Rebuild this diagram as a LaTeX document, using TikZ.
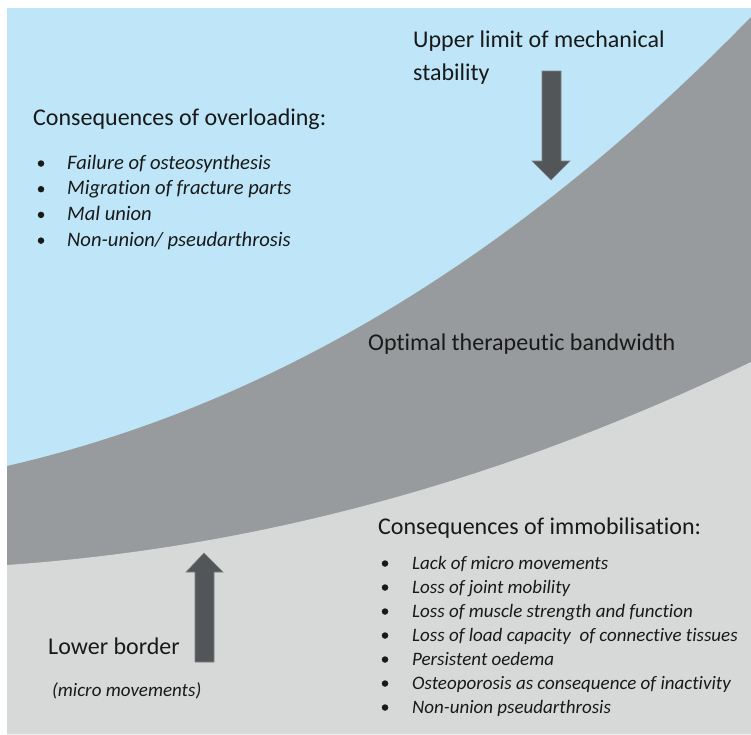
\documentclass[tikz,border=0pt]{standalone}
\usepackage{fontspec}
\setmainfont{Carlito}[Ligatures=CommonOff]
\usetikzlibrary{positioning}
\definecolor{overblue}{RGB}{190,230,248}
\definecolor{bandgray}{RGB}{152,155,157}
\definecolor{immogray}{RGB}{215,216,216}
\definecolor{arrowgray}{RGB}{83,86,88}
\definecolor{textdark}{RGB}{25,25,25}

\begin{document}
\begin{tikzpicture}[x=1pt, y=-1pt,
    heading/.style={anchor=base west, inner sep=0, font=\fontsize{24}{30}\selectfont, text=textdark},
    item/.style={anchor=base west, inner sep=0, font=\fontsize{20.6}{25}\selectfont\itshape, text=textdark},
    smallitem/.style={item, font=\fontsize{19}{24}\selectfont\itshape},
    bullet/.style={circle, fill=textdark, inner sep=0, minimum size=6.5pt},
    blockarrow/.style={fill=arrowgray, draw=arrowgray!75!white, line width=0.6pt}
]
    \useasboundingbox (0,0) rectangle (751,734);

    % Zones
    \fill[overblue] (7,8) rectangle (751,734);
    \fill[bandgray] (7,466) .. controls (307,397) and (551,222) .. (751,17)
        -- (751,734) -- (7,734) -- cycle;
    \fill[immogray] (7,565) .. controls (257,547.5) and (501,482) .. (751,362)
        -- (751,734) -- (7,734) -- cycle;

    % Arrows
    \filldraw[blockarrow] (542,71) -- (561,71) -- (561,161) -- (570,161)
        -- (551,180) -- (532,161) -- (542,161) -- cycle;
    \filldraw[blockarrow] (195,662) -- (214,662) -- (214,572) -- (223,572)
        -- (204,553) -- (186,572) -- (195,572) -- cycle;

    % Upper limit
    \node[heading] (upper) at (413,47) {Upper limit of mechanical};
    \node[heading] (upper2) at (413,80) {stability};

    % Overloading
    \node[heading] (over) at (33,125) {Consequences of overloading:};
    \foreach \txt [count=\i] in {Failure of osteosynthesis, Migration of fracture parts,
        Mal union, Non-union/ pseudarthrosis} {
        \node[item] (ov\i) at (67,143.3+25.7*\i) {\txt};
        \node[bullet] (ovb\i) at (41,137.8+25.7*\i) {};
    }

    % Band
    \node[heading] (band) at (368,350) {Optimal therapeutic bandwidth};

    % Immobilisation
    \node[heading] (immo) at (378,534) {Consequences of immobilisation:};
    \foreach \txt [count=\i] in {Lack of micro movements, Loss of joint mobility,
        Loss of muscle strength and function, Loss of load capacity\ \ of connective tissues,
        Persistent oedema, Osteoporosis as consequence of inactivity,
        Non-union pseudarthrosis} {
        \node[smallitem] (im\i) at (412,545+24*\i) {\txt};
        \node[bullet] (imb\i) at (385,539.5+24*\i) {};
    }

    % Lower border
    \node[heading] (lower) at (48,654) {Lower border};
    \node[smallitem] (micro) at (52,696) {(micro movements)};

\end{tikzpicture}
\end{document}
